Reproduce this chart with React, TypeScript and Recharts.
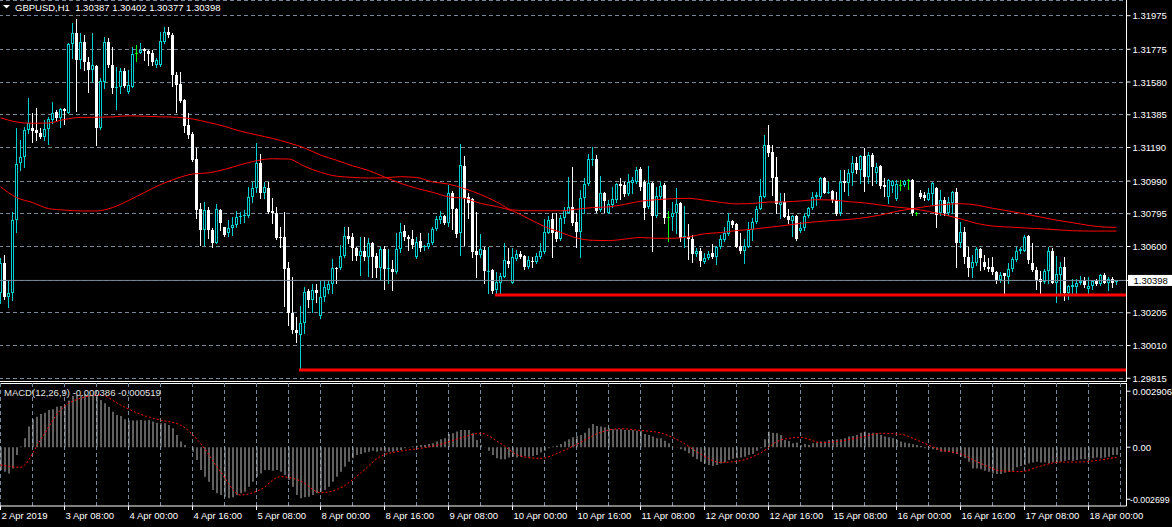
import { Bar, CartesianGrid, ComposedChart, Line, ReferenceLine, XAxis, YAxis } from "recharts";

// prices are stored in points above 1.30000 (1 point = 0.00001)
const OPEN = [
  321, 500, 301, 321, 758, 1095, 1135, 1294, 1308, 1294,
  1278, 1254, 1298, 1354, 1403, 1364, 1417, 1397, 1806, 1870,
  1711, 1820, 1701, 1651, 1675, 1304, 1582, 1820, 1681, 1542,
  1552, 1647, 1522, 1552, 1755, 1755, 1775, 1767, 1755, 1681,
  1681, 1820, 1880, 1860, 1622, 1568, 1473, 1324, 1270, 1119,
  821, 698, 817, 698, 623, 817, 714, 678, 708, 728,
  774, 782, 782, 893, 946, 1095, 917, 946, 813, 801,
  654, 654, 470, 202, 102, 73, 142, 335, 281, 341,
  186, 297, 341, 376, 474, 470, 543, 662, 654, 589,
  543, 575, 539, 619, 543, 470, 583, 464, 464, 450,
  583, 694, 658, 642, 539, 634, 595, 599, 619, 702,
  758, 782, 738, 921, 821, 678, 1079, 893, 881, 575,
  549, 579, 450, 460, 341, 384, 420, 515, 384, 523,
  555, 543, 476, 515, 509, 539, 569, 682, 762, 688,
  642, 768, 797, 837, 748, 688, 887, 972, 1115, 1119,
  817, 917, 797, 847, 877, 972, 966, 913, 976, 986,
  1060, 986, 837, 980, 782, 893, 966, 774, 774, 797,
  857, 654, 658, 642, 555, 575, 509, 529, 559, 535,
  595, 638, 674, 754, 734, 603, 575, 599, 698, 748,
  821, 897, 1205, 1163, 1012, 847, 867, 782, 754, 782,
  694, 708, 782, 827, 897, 897, 1006, 921, 932, 877,
  797, 992, 980, 1040, 1095, 1056, 1139, 1016, 1145, 1036,
  1079, 966, 897, 962, 883, 966, 966, 996, 996, 797,
  917, 907, 877, 911, 946, 797, 877, 797, 857, 927,
  619, 688, 539, 470, 503, 583, 509, 480, 480, 450,
  400, 440, 420, 464, 519, 575, 575, 662, 503, 460,
  404, 390, 456, 575, 384, 430, 480, 325, 361, 361,
  380, 396, 345, 364, 396, 376, 430, 384, 404, 387,
];
const HIGH = [
  529, 549, 400, 807, 1304, 1234, 1314, 1483, 1393, 1423,
  1304, 1354, 1373, 1463, 1413, 1423, 1423, 1814, 1933, 1953,
  1870, 1860, 1731, 1870, 1681, 1602, 1850, 1840, 1790, 1671,
  1661, 1661, 1651, 1790, 1800, 1810, 1780, 1771, 1771, 1721,
  1880, 1910, 1906, 1870, 1641, 1641, 1477, 1393, 1280, 1185,
  857, 867, 837, 708, 853, 821, 718, 758, 778, 813,
  807, 817, 956, 986, 1215, 1151, 986, 986, 887, 837,
  718, 807, 510, 416, 182, 245, 361, 345, 376, 376,
  396, 396, 400, 523, 480, 609, 718, 714, 678, 599,
  654, 654, 648, 625, 563, 599, 603, 583, 519, 678,
  738, 728, 668, 698, 658, 678, 609, 678, 718, 782,
  813, 786, 966, 932, 827, 1211, 1139, 921, 887, 807,
  674, 599, 599, 464, 450, 444, 619, 589, 589, 579,
  575, 549, 543, 539, 563, 623, 762, 782, 797, 797,
  788, 837, 1016, 1075, 797, 936, 1006, 1151, 1191, 1145,
  1020, 927, 877, 956, 980, 1006, 986, 1032, 1016, 1075,
  1075, 996, 1079, 986, 956, 986, 980, 813, 867, 946,
  867, 841, 734, 668, 589, 589, 559, 575, 615, 603,
  668, 718, 801, 760, 738, 678, 642, 748, 768, 841,
  1000, 1264, 1324, 1205, 1135, 921, 921, 821, 788, 786,
  748, 797, 833, 927, 927, 1016, 1012, 986, 936, 927,
  1056, 1056, 1060, 1139, 1135, 1145, 1185, 1165, 1159, 1095,
  1085, 1006, 1000, 996, 996, 996, 996, 1000, 1000, 807,
  936, 927, 950, 986, 956, 936, 897, 897, 932, 946,
  748, 718, 599, 549, 595, 589, 549, 529, 539, 456,
  450, 444, 503, 539, 595, 599, 668, 666, 619, 480,
  456, 464, 599, 589, 543, 510, 539, 370, 404, 404,
  424, 420, 420, 400, 404, 434, 444, 416, 416, 402,
];
const LOW = [
  261, 285, 241, 281, 688, 1056, 1075, 1274, 1224, 1234,
  1244, 1234, 1211, 1334, 1354, 1314, 1330, 1393, 1721, 1409,
  1661, 1651, 1522, 1582, 1205, 1300, 1542, 1671, 1512, 1417,
  1512, 1548, 1516, 1548, 1705, 1751, 1711, 1681, 1681, 1671,
  1675, 1810, 1850, 1556, 1403, 1463, 1284, 1244, 1111, 768,
  609, 609, 648, 595, 619, 698, 662, 662, 668, 718,
  742, 748, 778, 867, 927, 887, 887, 801, 738, 642,
  599, 245, 132, 83, 33, -136, 83, 241, 208, 271,
  172, 277, 325, 325, 384, 464, 535, 619, 519, 519,
  430, 519, 424, 420, 420, 404, 345, 384, 341, 444,
  569, 638, 579, 589, 529, 575, 579, 589, 615, 698,
  742, 734, 722, 702, 658, 549, 609, 768, 539, 420,
  539, 384, 321, 325, 311, 325, 416, 480, 380, 519,
  529, 464, 470, 480, 500, 529, 563, 678, 535, 634,
  638, 742, 797, 728, 595, 539, 797, 966, 1085, 807,
  813, 807, 797, 837, 867, 881, 901, 907, 921, 980,
  936, 762, 827, 575, 778, 881, 742, 635, 698, 678,
  634, 599, 523, 510, 543, 484, 500, 523, 529, 495,
  589, 634, 668, 718, 595, 563, 500, 595, 638, 742,
  821, 897, 1139, 907, 797, 768, 774, 742, 662, 638,
  688, 698, 774, 821, 847, 887, 917, 917, 867, 787,
  787, 932, 907, 966, 1036, 980, 932, 976, 966, 980,
  946, 901, 857, 927, 879, 936, 960, 940, 787, 787,
  887, 877, 877, 847, 718, 787, 787, 787, 797, 476,
  599, 500, 424, 416, 490, 460, 464, 456, 436, 384,
  390, 317, 384, 456, 515, 559, 575, 500, 456, 345,
  317, 384, 384, 380, 271, 321, 281, 285, 311, 317,
  376, 356, 311, 345, 370, 370, 380, 341, 356, 377,
];
const CLOSE = [
  500, 301, 325, 758, 1091, 1135, 1294, 1334, 1290, 1278,
  1254, 1298, 1358, 1397, 1364, 1417, 1407, 1806, 1870, 1711,
  1820, 1701, 1651, 1681, 1304, 1586, 1820, 1681, 1542, 1552,
  1647, 1556, 1562, 1747, 1755, 1771, 1765, 1747, 1701, 1711,
  1826, 1880, 1860, 1622, 1562, 1469, 1318, 1264, 1115, 817,
  698, 817, 698, 619, 821, 742, 668, 708, 728, 774,
  782, 788, 897, 946, 1095, 917, 956, 807, 801, 648,
  648, 464, 202, 102, 83, 142, 331, 281, 341, 325,
  297, 361, 376, 470, 464, 543, 662, 642, 589, 543,
  575, 539, 619, 539, 470, 583, 464, 470, 450, 583,
  688, 654, 642, 609, 629, 589, 603, 619, 702, 762,
  782, 738, 921, 821, 674, 1085, 887, 861, 569, 549,
  583, 456, 456, 337, 390, 424, 519, 495, 539, 555,
  535, 476, 519, 509, 543, 575, 688, 758, 678, 642,
  768, 817, 837, 742, 688, 887, 972, 1119, 1119, 813,
  917, 873, 853, 881, 972, 960, 913, 986, 996, 1056,
  956, 827, 980, 782, 901, 960, 768, 774, 797, 853,
  648, 662, 642, 555, 575, 515, 529, 555, 535, 599,
  642, 678, 754, 728, 599, 575, 603, 698, 748, 821,
  901, 1205, 1159, 1006, 853, 867, 778, 758, 782, 642,
  708, 782, 827, 897, 907, 1006, 921, 927, 877, 793,
  986, 980, 1040, 1099, 1056, 1139, 1016, 1145, 1072, 1072,
  960, 956, 996, 990, 970, 966, 990, 996, 797, 797,
  893, 887, 917, 976, 787, 877, 797, 867, 927, 623,
  688, 535, 470, 509, 583, 529, 480, 464, 450, 400,
  430, 424, 464, 523, 575, 583, 658, 519, 460, 400,
  390, 456, 575, 384, 436, 480, 321, 364, 370, 384,
  396, 370, 364, 396, 376, 430, 384, 404, 384, 398,
];

// moving averages, read every 4th bar (last entry = last bar)
const MA_A = [
  1367, 1342, 1334, 1336, 1357, 1369, 1370, 1372, 1379, 1376,
  1373, 1370, 1360, 1339, 1316, 1287, 1265, 1244, 1218, 1187,
  1145, 1114, 1081, 1053, 1014, 977, 947, 923, 896, 887,
  857, 838, 812, 766, 719, 685, 651, 637, 635, 644,
  654, 649, 649, 657, 676, 683, 695, 703, 714, 725,
  738, 748, 755, 761, 772, 788, 809, 825, 840, 850,
  855, 847, 828, 812, 794, 776, 757, 742, 726, 716, 714,
];
const MA_B = [
  956, 892, 862, 826, 817, 812, 812, 832, 874, 922,
  969, 1005, 1032, 1039, 1059, 1087, 1111, 1123, 1121, 1078,
  1042, 1019, 1012, 1008, 1009, 1016, 1011, 985, 972, 945,
  910, 866, 818, 813, 813, 813, 822, 832, 836, 851,
  870, 879, 885, 887, 876, 863, 854, 856, 865, 866,
  871, 879, 877, 867, 860, 847, 835, 825, 809, 789,
  765, 738, 722, 716, 711, 706, 700, 694, 692, 692, 692,
];

// MACD(12,26,9) main values in 0.00001
const MACD = [
  -118, -127, -136, -110, -40, 3, 46, 107, 145, 158,
  172, 179, 193, 197, 210, 214, 214, 242, 266, 271,
  271, 276, 271, 271, 271, 245, 228, 210, 184, 167,
  162, 145, 138, 138, 138, 141, 138, 141, 133, 127,
  124, 124, 115, 98, 63, 29, 11, -2, -23, -66,
  -118, -153, -179, -222, -239, -248, -257, -265, -260, -248,
  -239, -231, -205, -179, -153, -136, -118, -118, -122, -118,
  -127, -144, -170, -205, -248, -265, -260, -257, -248, -239,
  -231, -222, -205, -179, -153, -127, -101, -75, -58, -40,
  -35, -28, -23, -18, -23, -18, -23, -23, -23, -18,
  -14, -6, -2, 3, 8, 11, 11, 17, 20, 29,
  41, 46, 69, 72, 81, 89, 89, 89, 72, 37,
  11, -2, -18, -40, -58, -63, -63, -53, -49, -53,
  -49, -46, -49, -46, -40, -28, -18, -6, 3, 8,
  17, 29, 41, 51, 58, 63, 75, 98, 120, 110,
  107, 103, 98, 93, 93, 93, 89, 89, 89, 86,
  86, 69, 63, 55, 46, 46, 34, 20, -2, -2,
  -11, -18, -32, -49, -63, -75, -84, -92, -98, -92,
  -84, -80, -66, -60, -58, -53, -49, -40, -35, -18,
  -6, 41, 81, 75, 72, 63, 37, 32, 20, 24,
  11, 17, 11, 20, 24, 29, 29, 37, 37, 41,
  41, 46, 55, 58, 63, 75, 81, 75, 75, 72,
  63, 55, 51, 46, 37, 29, 24, 20, 15, 11,
  6, -6, -6, -11, -14, -23, -23, -23, -32, -35,
  -49, -58, -75, -110, -110, -115, -122, -127, -136, -139,
  -139, -132, -127, -122, -104, -98, -92, -84, -80, -75,
  -80, -80, -84, -80, -80, -75, -70, -66, -70, -66,
  -63, -63, -66, -58, -53, -58, -53, -49, -40, -39,
];
// signal line, read every 5th bar (last entry = last bar)
const SIGNAL = [
  -92, -104, 38, 193, 254, 271, 219, 171, 141, 115,
  20, -127, -248, -220, -153, -175, -236, -212, -135, -48,
  -20, -6, 15, 48, 72, 20, -46, -58, -25, 25,
  77, 96, 87, 74, 30, -35, -79, -70, -30, 37,
  51, 24, 32, 51, 72, 67, 29, -14, -35, -84,
  -122, -127, -98, -77, -77, -66, -52,
];

const SUP_HI = 311; // trend line starting at bar 124
const SUP_HI_FROM = 124;
const SUP_LO = -136; // trend line starting at bar 75
const SUP_LO_FROM = 75;
const LAST_PRICE = 1.30398;

const PRICE_TICKS = [1.31975, 1.31775, 1.3158, 1.31385, 1.3119, 1.3099, 1.30795, 1.306, 1.30205, 1.3001, 1.29815];
const MACD_TICKS = [0.002906, 0, -0.002699];
const TIME_LABELS = [
  "2 Apr 2019", "3 Apr 08:00", "4 Apr 00:00", "4 Apr 16:00", "5 Apr 08:00", "8 Apr 00:00",
  "8 Apr 16:00", "9 Apr 08:00", "10 Apr 00:00", "10 Apr 16:00", "11 Apr 08:00", "12 Apr 00:00",
  "12 Apr 16:00", "15 Apr 08:00", "16 Apr 00:00", "16 Apr 16:00", "17 Apr 08:00", "18 Apr 00:00",
];

const SLOTS = CLOSE.length + 2; // two empty slots on the right edge
const P = (v: number) => 1.3 + v / 100000;
const M = (v: number) => v / 100000;

const rows: any[] = Array.from({ length: SLOTS }, (_, i) => {
  const r: any = { i };
  if (i < CLOSE.length) {
    r.o = P(OPEN[i]);
    r.h = P(HIGH[i]);
    r.l = P(LOW[i]);
    r.c = P(CLOSE[i]);
    r.range = [r.l, r.h];
    r.macd = M(MACD[i]);
  }
  if (i >= SUP_HI_FROM) r.supHi = P(SUP_HI);
  if (i >= SUP_LO_FROM) r.supLo = P(SUP_LO);
  return r;
});
MA_A.forEach((v, k) => { rows[k < MA_A.length - 1 ? k * 4 : CLOSE.length - 1].maA = P(v); });
MA_B.forEach((v, k) => { rows[k < MA_B.length - 1 ? k * 4 : CLOSE.length - 1].maB = P(v); });
SIGNAL.forEach((v, k) => { rows[k < SIGNAL.length - 1 ? k * 5 : CLOSE.length - 1].sig = M(v); });

const GRID_TICKS = rows.filter((r) => r.i % 8 === 0).map((r) => r.i);

const FONT = '"Liberation Sans", Arial, sans-serif';
const FS = 9.5;
const BULL = "#00CED1";
const BEAR = "#FFFFFF";
const DOJI = "#00FF00";
const GRID = "#778899";
const RED = "#FF0000";

const Candle = (props: any) => {
  const { x, y, width, height, payload } = props;
  if (!payload || payload.o === undefined) return null;
  const { o, h, l, c } = payload;
  const span = h - l || 1e-9;
  const toY = (v: number) => y + ((h - v) / span) * height;
  const cx = Math.floor(x + width / 2) + 0.5;
  const yHi = Math.round(toY(h));
  const yLo = Math.round(toY(l)) + 1;
  const yTop = Math.round(toY(Math.max(o, c)));
  const yBot = Math.round(toY(Math.min(o, c)));
  if (o === c) {
    return (
      <g shapeRendering="crispEdges">
        <line x1={cx} x2={cx} y1={yHi} y2={yLo} stroke={DOJI} />
        <line x1={cx - 1.5} x2={cx + 1.5} y1={yTop + 0.5} y2={yTop + 0.5} stroke={DOJI} />
      </g>
    );
  }
  const bull = c > o;
  const col = bull ? BULL : BEAR;
  const bh = Math.max(1, yBot - yTop);
  return (
    <g shapeRendering="crispEdges">
      <line x1={cx} x2={cx} y1={yHi} y2={yLo} stroke={col} />
      {bull && bh > 2 ? (
        <rect x={cx - 1} y={yTop + 0.5} width={2} height={bh - 1} fill="#000" stroke={col} />
      ) : (
        <rect x={cx - 1.5} y={yTop} width={3} height={bh} fill={col} />
      )}
    </g>
  );
};

const priceTick = (p: any) => {
  const v = p.payload.value;
  if (v === LAST_PRICE) {
    return (
      <g>
        <rect x={p.x - 4.5} y={p.y - 5.5} width={1172 - p.x + 4.5} height={11} fill="#fff" />
        <text x={p.x + 1} y={p.y + 3.5} fontSize={FS} fontFamily={FONT} fill="#000">{v.toFixed(5)}</text>
      </g>
    );
  }
  return <text x={p.x} y={p.y + 3.5} fontSize={FS} fontFamily={FONT} fill="#fff">{v.toFixed(5)}</text>;
};

const macdTick = (p: any) => {
  const v = p.payload.value;
  const label = v === 0 ? "0.00" : v.toFixed(6);
  const neg = v < 0;
  return (
    <text x={neg ? p.x - 2.5 : p.x} y={p.y + 3.5} fontSize={neg ? 8.8 : FS} fontFamily={FONT} fill="#fff">
      {label}
    </text>
  );
};

const timeTick = (p: any) => {
  const i = p.payload.value;
  const label = i % 16 === 0 ? TIME_LABELS[i / 16] : undefined;
  if (!label) return <g />;
  return (
    <g>
      <line x1={p.x} x2={p.x} y1={p.y} y2={p.y + 4} stroke="#fff" shapeRendering="crispEdges" />
      <text x={p.x + 1} y={p.y + 13} fontSize={FS} fontFamily={FONT} fill="#fff">{label}</text>
    </g>
  );
};

export default function App() {
  return (
    <div style={{ position: "fixed", left: 0, top: 0, width: 1172, height: 527, background: "#000", overflow: "hidden", fontFamily: FONT }}>
      <div style={{ position: "absolute", left: 0, top: 0 }}>
        <ComposedChart width={1172} height={383} data={rows} margin={{ top: 0, right: 0, bottom: 2, left: -1.5 }} barCategoryGap={0} barGap={0}>
          <CartesianGrid stroke={GRID} strokeDasharray="4 3" shapeRendering="crispEdges" />
          <XAxis dataKey="i" type="category" ticks={GRID_TICKS} interval={0} height={0} tick={false} axisLine={false} tickLine={false} />
          <YAxis
            orientation="right" type="number" width={45.5} domain={[1.297989, 1.320685]} allowDataOverflow
            ticks={[...PRICE_TICKS, LAST_PRICE]} interval={0} tick={priceTick} tickSize={4} tickMargin={2}
            axisLine={{ stroke: "#fff" }} tickLine={{ stroke: "#fff" }}
          />
          <ReferenceLine y={LAST_PRICE} stroke={GRID} />
          <Bar dataKey="range" shape={<Candle />} isAnimationActive={false} />
          <Line dataKey="maA" type="monotone" stroke={RED} strokeWidth={1} dot={false} connectNulls isAnimationActive={false} />
          <Line dataKey="maB" type="monotone" stroke={RED} strokeWidth={1} dot={false} connectNulls isAnimationActive={false} />
          <Line dataKey="supHi" type="linear" stroke={RED} strokeWidth={3} strokeLinecap="square" dot={false} isAnimationActive={false} />
          <Line dataKey="supLo" type="linear" stroke={RED} strokeWidth={3} strokeLinecap="square" dot={false} isAnimationActive={false} />
        </ComposedChart>
      </div>

      <div style={{ position: "absolute", left: 0, top: 381, width: 1127, height: 1, background: "#fff" }} />
      <div style={{ position: "absolute", left: 0, top: 383, width: 1127, height: 1, background: "#fff" }} />

      <div style={{ position: "absolute", left: 0, top: 383 }}>
        <ComposedChart width={1172} height={144} data={rows} margin={{ top: 0, right: 0, bottom: 0, left: -1.5 }} barCategoryGap={0} barGap={0}>
          <CartesianGrid stroke={GRID} strokeDasharray="4 3" horizontal={false} shapeRendering="crispEdges" />
          <XAxis
            dataKey="i" type="category" ticks={GRID_TICKS} interval={0} height={21} tick={timeTick}
            tickLine={false} tickSize={0} tickMargin={0} axisLine={{ stroke: "#fff" }}
          />
          <YAxis
            orientation="right" type="number" width={45.5} domain={[-0.003052, 0.003332]} allowDataOverflow
            ticks={MACD_TICKS} interval={0} tick={macdTick} tickSize={4} tickMargin={2}
            axisLine={{ stroke: "#fff" }} tickLine={{ stroke: "#fff" }}
          />
          <Bar dataKey="macd" fill="#C0C0C0" barSize={1} isAnimationActive={false} />
          <Line dataKey="sig" type="monotone" stroke={RED} strokeWidth={1} strokeDasharray="2 2" dot={false} connectNulls isAnimationActive={false} />
        </ComposedChart>
      </div>

      <svg style={{ position: "absolute", left: 0, top: 0 }} width={12} height={12}>
        <polygon points="3,5 10,5 6.5,8.5" fill="#fff" />
      </svg>
      <div style={{ position: "absolute", left: 15, top: 3, fontSize: FS, lineHeight: "9px", color: "#fff", whiteSpace: "pre" }}>
        {"GBPUSD,H1  1.30387 1.30402 1.30377 1.30398"}
      </div>
      <div style={{ position: "absolute", left: 4, top: 388, fontSize: FS, lineHeight: "9px", color: "#E0E0E0", whiteSpace: "pre" }}>
        {"MACD(12,26,9) -0.000386 -0.000519"}
      </div>
    </div>
  );
}
